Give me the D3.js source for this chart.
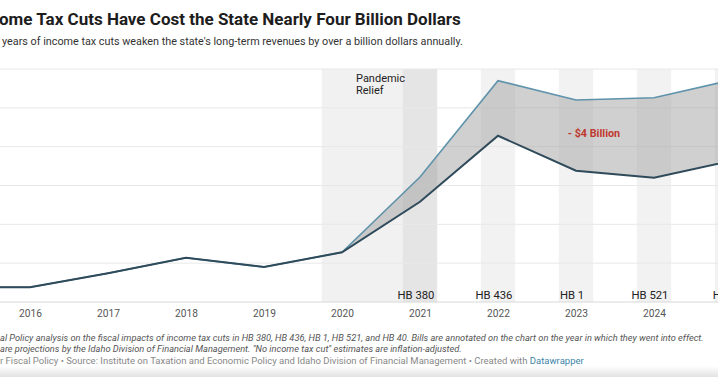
<!DOCTYPE html>
<html>
<head>
<meta charset="utf-8">
<script src="https://cdn.jsdelivr.net/npm/d3@7"></script>
<style>
  body { margin: 0; background: #fff; overflow: hidden; }
  svg { display: block; font-family: Roboto, "Noto Sans", sans-serif; }
</style>
</head>
<body>
<svg id="chart" width="718" height="377"></svg>
<script>
// years on the x axis
var years = [2015, 2016, 2017, 2018, 2019, 2020, 2021, 2022, 2023, 2024, 2025];
// actual revenue (billions)
var actual = [3.19, 3.19, 3.37, 3.57, 3.45, 3.64, 4.29, 5.14, 4.69, 4.60, 4.82];
// "no income tax cut" estimate (billions)
var noCut = [3.19, 3.19, 3.37, 3.57, 3.45, 3.64, 4.61, 5.85, 5.60, 5.63, 5.86];
var yTicks = [3, 3.5, 4, 4.5, 5, 5.5, 6];
var tickYears = [2016, 2017, 2018, 2019, 2020, 2021, 2022, 2023, 2024];
// bills, by the year they went into effect
var billYears = [2021, 2022, 2023, 2024, 2025];
var billNames = ["HB 380", "HB 436", "HB 1", "HB 521", "HB 40"];
var pandemicRange = [2019.74, 2021.22];

const width = 718, height = 377;
const x = d3.scaleLinear([2016, 2024], [30, 654]);
const y = d3.scaleLinear([3, 6], [302, 69]);

var svg = d3.select("#chart");

// bottom shade
var defs = svg.append("defs");
var grad = defs.append("linearGradient").attr("id", "shade").attr("x1", 0).attr("x2", 0).attr("y1", 0).attr("y2", 1);
grad.append("stop").attr("offset", "0%").attr("stop-color", "#fff");
grad.append("stop").attr("offset", "100%").attr("stop-color", "#e2e2e2");
svg.append("rect").attr("x", 0).attr("y", 366).attr("width", width).attr("height", 11).attr("fill", "url(#shade)");

// title, cropped on the left
var title = svg.append("text")
    .attr("y", 25)
    .attr("font-size", 17)
    .attr("font-weight", 700)
    .attr("fill", "#1d1d1d");
var hidden = title.append("tspan").text("Inc");
title.append("tspan").text("ome Tax Cuts Have Cost the State Nearly Four Billion Dollars");
var hw = hidden.node().getComputedTextLength();
title.attr("x", -hw - 1);

svg.append("text")
    .attr("x", 2).attr("y", 45)
    .attr("font-size", 10.8)
    .attr("fill", "#333")
    .text("years of income tax cuts weaken the state's long-term revenues by over a billion dollars annually.");

// pandemic band
svg.append("rect")
    .attr("x", x(pandemicRange[0]))
    .attr("y", y(6))
    .attr("width", x(pandemicRange[1]) - x(pandemicRange[0]))
    .attr("height", y(3) - y(6))
    .attr("fill", "#f1f1f1");

// bill bands
svg.append("g").selectAll("rect")
    .data(billYears)
    .join("rect")
    .attr("x", d => x(d - 0.22))
    .attr("y", y(6))
    .attr("width", x(2016.44) - x(2016))
    .attr("height", y(3) - y(6))
    .attr("fill", d => d < pandemicRange[1] ? "#e5e5e5" : "#f2f2f2");

// grid
svg.append("g").selectAll("line")
    .data(yTicks)
    .join("line")
    .attr("x1", 0).attr("x2", width)
    .attr("y1", d => y(d)).attr("y2", d => y(d))
    .attr("stroke", d => d === 3 ? "#d8d8d8" : "#e8e8e8")
    .attr("stroke-width", 1);

// area between the two lines
var area = d3.area()
    .x((d, i) => x(years[i]))
    .y0((d, i) => y(actual[i]))
    .y1((d, i) => y(noCut[i]));
svg.append("path")
    .datum(years)
    .attr("d", area)
    .attr("fill", "#a2a2a2")
    .attr("fill-opacity", 0.5);

var line = d3.line().x((d, i) => x(years[i])).y(d => y(d));
svg.append("path")
    .datum(noCut)
    .attr("d", line)
    .attr("fill", "none")
    .attr("stroke", "#5f93ab")
    .attr("stroke-width", 1.6);
svg.append("path")
    .datum(actual)
    .attr("d", line)
    .attr("fill", "none")
    .attr("stroke", "#2f4a5a")
    .attr("stroke-width", 2);

// x axis labels
var xAxis = svg.append("g")
    .attr("transform", "translate(0," + y(3) + ")")
    .call(d3.axisBottom(x).tickValues(tickYears).tickFormat(d3.format("d")).tickSize(0).tickPadding(8));
xAxis.select(".domain").remove();
xAxis.selectAll("text")
    .attr("font-family", "Roboto, sans-serif")
    .attr("font-size", 10.2)
    .attr("fill", "#555");

// bill labels
svg.append("g").selectAll("text")
    .data(billYears)
    .join("text")
    .attr("x", d => x(d) - 4)
    .attr("y", y(3) - 3)
    .attr("text-anchor", "middle")
    .attr("font-size", 11.3)
    .attr("fill", "#222")
    .text((d, i) => billNames[i]);

// pandemic annotation
svg.append("text")
    .attr("x", 356).attr("y", 81.5)
    .attr("font-size", 11)
    .attr("fill", "#222")
    .text("Pandemic");
svg.append("text")
    .attr("x", 356).attr("y", 94)
    .attr("font-size", 11)
    .attr("fill", "#222")
    .text("Relief");

svg.append("text")
    .attr("x", x(2023.23)).attr("y", 137)
    .attr("text-anchor", "middle")
    .attr("font-size", 10.8)
    .attr("font-weight", 700)
    .attr("fill", "#c0392f")
    .text("- $4 Billion");

// notes
var notes = svg.append("g").attr("font-size", 9.25).attr("font-style", "italic").attr("fill", "#555");
notes.append("text").attr("x", 0).attr("y", 341)
    .text("al Policy analysis on the fiscal impacts of income tax cuts in HB 380, HB 436, HB 1, HB 521, and HB 40. Bills are annotated on the chart on the year in which they went into effect.");
notes.append("text").attr("x", 0).attr("y", 352)
    .text("are projections by the Idaho Division of Financial Management. \"No income tax cut\" estimates are inflation-adjusted.");

var credit = svg.append("text").attr("x", 0).attr("y", 363.5).attr("font-size", 9.5).attr("fill", "#888");
credit.append("tspan").text("r Fiscal Policy \u2022 Source: Institute on Taxation and Economic Policy and Idaho Division of Financial Management \u2022 Created with ");
credit.append("tspan").attr("fill", "#3c84a8").text("Datawrapper");
</script>
</body>
</html>
